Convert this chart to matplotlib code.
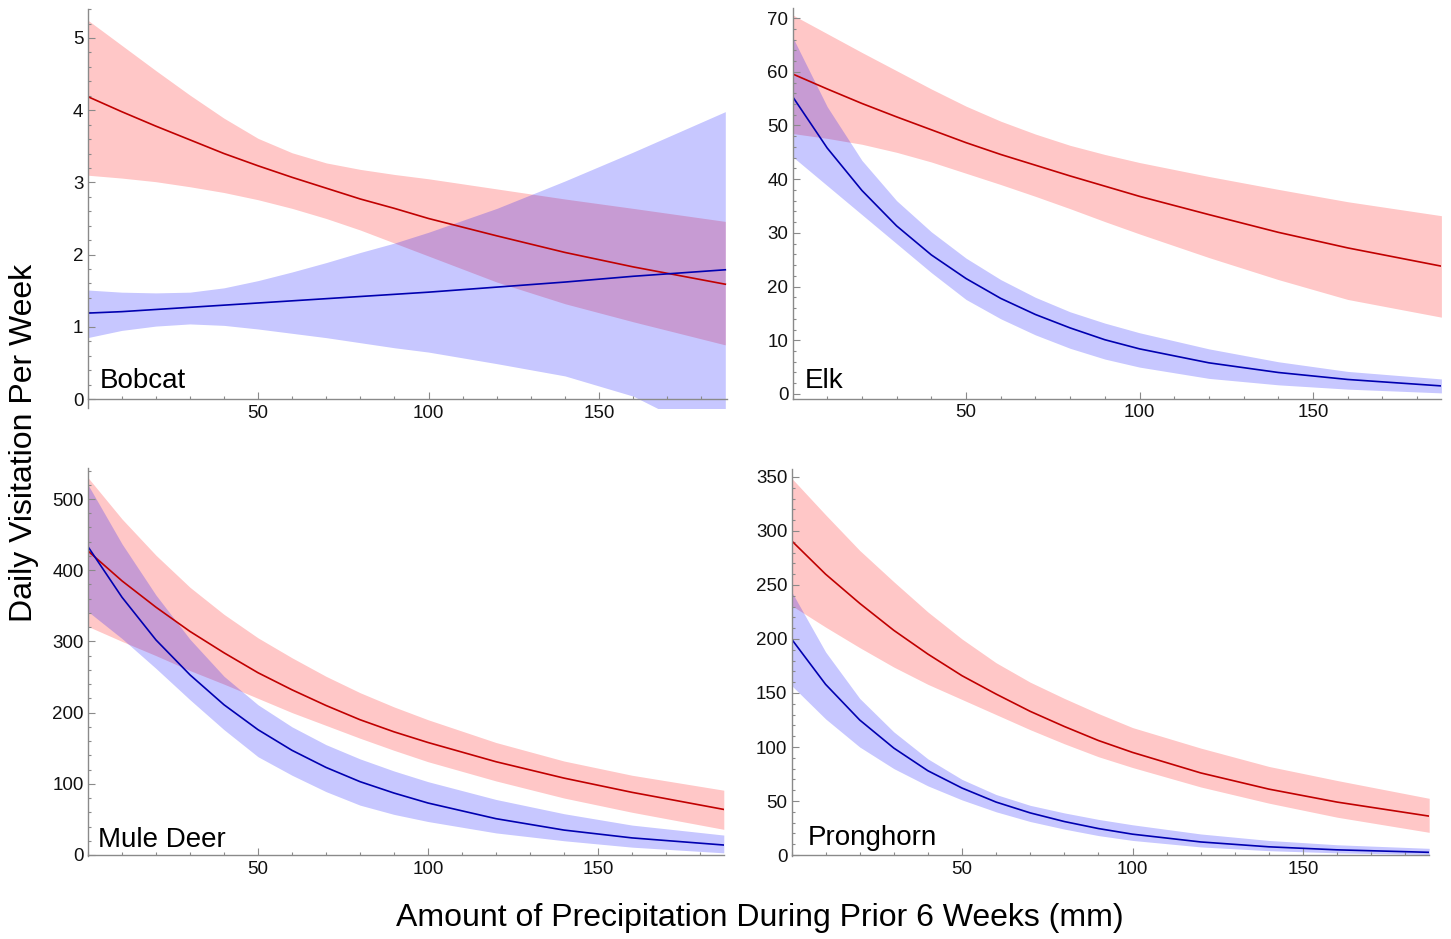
import matplotlib
matplotlib.use("Agg")
import matplotlib.pyplot as plt
from matplotlib.ticker import MultipleLocator, FixedLocator

plt.rcParams['font.family'] = ['Liberation Sans', 'DejaVu Sans']

# precipitation (mm) where the curves were read
x = [0, 10, 20, 30, 40, 50, 60, 70, 80, 90, 100, 120, 140, 160, 187]

# Bobcat
bobcat_red_mean = [4.19, 3.98, 3.78, 3.59, 3.40, 3.23, 3.07, 2.92, 2.77, 2.64, 2.50, 2.26, 2.03, 1.83, 1.59]
bobcat_red_low = [3.10, 3.06, 3.01, 2.94, 2.86, 2.76, 2.64, 2.50, 2.34, 2.16, 1.98, 1.62, 1.32, 1.07, 0.75]
bobcat_red_high = [5.25, 4.90, 4.55, 4.21, 3.89, 3.61, 3.41, 3.27, 3.18, 3.11, 3.05, 2.91, 2.77, 2.64, 2.46]
bobcat_blue_mean = [1.19, 1.21, 1.24, 1.27, 1.30, 1.33, 1.36, 1.39, 1.42, 1.45, 1.48, 1.55, 1.62, 1.70, 1.79]
bobcat_blue_low = [0.85, 0.95, 1.01, 1.04, 1.02, 0.97, 0.91, 0.85, 0.78, 0.71, 0.65, 0.49, 0.32, 0.04, -0.60]
bobcat_blue_high = [1.51, 1.48, 1.47, 1.48, 1.54, 1.64, 1.76, 1.89, 2.03, 2.16, 2.31, 2.64, 3.02, 3.42, 3.98]

# Elk
elk_red_mean = [59.6, 56.8, 54.1, 51.6, 49.2, 46.8, 44.6, 42.6, 40.6, 38.7, 36.8, 33.4, 30.1, 27.2, 23.8]
elk_red_low = [48.5, 47.6, 46.5, 45.0, 43.2, 41.1, 39.0, 36.8, 34.5, 32.1, 29.8, 25.4, 21.3, 17.6, 14.3]
elk_red_high = [70.6, 67.1, 63.6, 60.2, 56.8, 53.6, 50.8, 48.4, 46.3, 44.6, 43.1, 40.5, 38.1, 35.8, 33.2]
elk_blue_mean = [55.4, 45.8, 37.9, 31.3, 25.9, 21.5, 17.8, 14.8, 12.3, 10.1, 8.4, 5.8, 4.0, 2.7, 1.5]
elk_blue_low = [44.2, 38.8, 33.4, 28.0, 22.6, 17.6, 14.0, 11.0, 8.5, 6.5, 5.0, 2.9, 1.7, 0.9, 0.2]
elk_blue_high = [66.5, 53.5, 43.5, 36.0, 30.2, 25.3, 21.3, 18.0, 15.3, 13.2, 11.4, 8.4, 6.0, 4.2, 2.8]

# Mule Deer
mule_red_mean = [427, 385, 348, 314, 284, 256, 232, 210, 190, 173, 158, 131, 108, 88, 64]
mule_red_low = [321, 300, 280, 259, 240, 220, 200, 182, 164, 147, 131, 104, 80, 60, 36]
mule_red_high = [530, 472, 421, 376, 338, 305, 277, 251, 228, 208, 190, 158, 132, 112, 91]
mule_blue_mean = [433, 362, 302, 253, 211, 176, 147, 123, 103, 87, 73, 51, 35, 24, 14]
mule_blue_low = [342, 304, 262, 218, 176, 138, 112, 89, 70, 57, 47, 31, 20, 11, 3]
mule_blue_high = [520, 437, 365, 303, 251, 211, 180, 155, 135, 118, 103, 78, 58, 42, 28]

# Pronghorn
prong_red_mean = [291, 260, 233, 208, 186, 166, 149, 133, 119, 106, 95, 76, 61, 49, 36]
prong_red_low = [231, 211, 192, 174, 158, 144, 130, 116, 103, 91, 81, 63, 48, 35, 21]
prong_red_high = [349, 315, 282, 253, 225, 200, 178, 160, 145, 131, 118, 99, 82, 69, 52.5]
prong_blue_mean = [200, 158, 125, 99, 78, 62, 49, 39, 31, 24.5, 19.3, 12.1, 7.6, 4.8, 2.5]
prong_blue_low = [157, 126, 100, 80, 64, 51, 40, 31, 24, 18, 13.5, 7.5, 4.0, 2.0, 0.5]
prong_blue_high = [244, 188, 145, 114, 89, 70, 56, 46, 39, 33, 28, 19.5, 13.5, 9.5, 6.2]

species = ["Bobcat", "Elk", "Mule Deer", "Pronghorn"]
red_mean = [bobcat_red_mean, elk_red_mean, mule_red_mean, prong_red_mean]
red_low = [bobcat_red_low, elk_red_low, mule_red_low, prong_red_low]
red_high = [bobcat_red_high, elk_red_high, mule_red_high, prong_red_high]
blue_mean = [bobcat_blue_mean, elk_blue_mean, mule_blue_mean, prong_blue_mean]
blue_low = [bobcat_blue_low, elk_blue_low, mule_blue_low, prong_blue_low]
blue_high = [bobcat_blue_high, elk_blue_high, mule_blue_high, prong_blue_high]
y_major = [1, 10, 100, 50]
y_minor = [0.2, 2, 20, 10]

# layout in pixels: left, right, top, bottom, xmax, ymin, ymax, x-axis position
W, H = 1451, 939
layout = [
    (87.5, 727.0, 9.1, 407.7, 187.5, -0.12, 5.4, 0),
    (792.5, 1441.4, 8.4, 398.8, 187, -0.9, 71.8, -0.9),
    (88.0, 723.8, 468.4, 855.7, 187, -1, 543, 0),
    (791.5, 1429.2, 469.4, 856.1, 187, -1, 357, 0),
]
label_pos = [(100, 388), (805, 388), (98, 847), (808, 845)]

red_line = '#c00000'
blue_line = '#0000b0'
axis_grey = '#8a8a8a'

fig = plt.figure(figsize=(W / 100, H / 100), dpi=100)

for i in range(4):
    l, r, t, b, xmax, ymin, ymax, xaxis_y = layout[i]
    ax = fig.add_axes([l / W, 1 - b / H, (r - l) / W, (b - t) / H])
    ax.fill_between(x, red_low[i], red_high[i], color='red', alpha=0.22, lw=0)
    ax.fill_between(x, blue_low[i], blue_high[i], color='blue', alpha=0.22, lw=0)
    ax.plot(x, red_mean[i], color=red_line, lw=1.2)
    ax.plot(x, blue_mean[i], color=blue_line, lw=1.2)
    ax.set_xlim(0, xmax)
    ax.set_ylim(ymin, ymax)

    ax.spines['top'].set_visible(False)
    ax.spines['right'].set_visible(False)
    ax.spines['bottom'].set_position(('data', xaxis_y))
    for s in ['left', 'bottom']:
        ax.spines[s].set_color(axis_grey)
        ax.spines[s].set_linewidth(1.0)

    ax.xaxis.set_major_locator(FixedLocator([50, 100, 150]))
    ax.xaxis.set_minor_locator(MultipleLocator(10))
    ax.yaxis.set_major_locator(MultipleLocator(y_major[i]))
    ax.yaxis.set_minor_locator(MultipleLocator(y_minor[i]))
    ax.tick_params(which='both', direction='in', color=axis_grey, width=0.8,
                   labelsize=13.5, labelcolor='#111111')
    ax.tick_params(which='major', length=5)
    ax.tick_params(which='minor', length=2.5)
    ax.tick_params(axis='x', pad=4)
    ax.tick_params(axis='y', pad=3)

    lx, ly = label_pos[i]
    fig.text(lx / W, 1 - ly / H, species[i], fontsize=20, ha='left', va='baseline')

fig.text(24 / W, 1 - 443 / H, "Daily Visitation Per Week", rotation=90,
         fontsize=23, ha='center', va='center')
fig.text(760 / W, 1 - 918 / H, "Amount of Precipitation During Prior 6 Weeks (mm)",
         fontsize=23, ha='center', va='center')

fig.savefig("out.png", dpi=100)
